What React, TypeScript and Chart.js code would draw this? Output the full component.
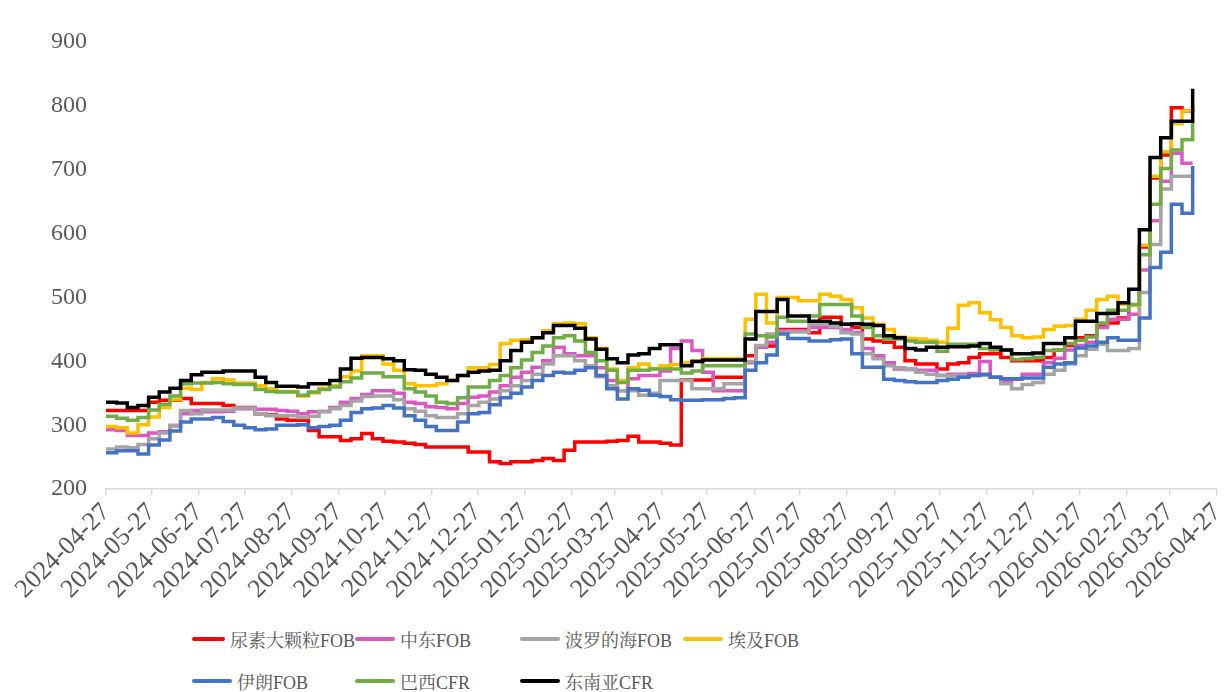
import React, { useEffect, useRef } from "react";
import { Chart, registerables } from "chart.js";

Chart.register(...registerables);

// ---- data ----
const START_DATE = "2024-04-27";
const AXIS_END_DAY = 730; // 2026-04-27
const WEEK_STEP_DAYS = 7;
const TICK_MONTHS_FROM = "2024-04";
const TICK_MONTHS_COUNT = 25;
const Y_MIN = 200;
const Y_MAX = 900;
const Y_STEP = 100;

const seriesNames = [
  "尿素大颗粒FOB",
  "中东FOB",
  "波罗的海FOB",
  "埃及FOB",
  "伊朗FOB",
  "巴西CFR",
  "东南亚CFR",
];

const seriesColors = ["#FF0000", "#DD57C2", "#A5A5A5", "#FFC000", "#4472C4", "#70AD47", "#000000"];

const urea = [
  323, 323, 323, 323, 336, 339, 339, 342, 334, 334,
  334, 331, 328, 328, 318, 316, 310, 308, 308, 292,
  282, 282, 276, 279, 287, 279, 275, 274, 272, 270,
  266, 266, 266, 266, 258, 258, 243, 240, 243, 243,
  245, 248, 245, 261, 274, 274, 274, 275, 276, 283,
  274, 274, 272, 269, 371, 371, 371, 375, 375, 375,
  409, 422, 424, 450, 450, 450, 445, 469, 469, 458,
  453, 435, 432, 430, 422, 401, 396, 396, 388, 396,
  398, 406, 412, 412, 406, 401, 401, 401, 406, 418,
  425, 437, 440, 455, 460, 468, 488, 579, 687, 723,
  797, 792, 795,
];

const middleEast = [
  293, 292, 284, 284, 288, 290, 299, 318, 323, 321,
  321, 322, 326, 326, 325, 325, 323, 322, 318, 321,
  321, 328, 336, 342, 348, 354, 354, 350, 336, 334,
  329, 328, 326, 334, 344, 346, 352, 362, 375, 383,
  391, 401, 422, 412, 409, 409, 390, 370, 354, 373,
  378, 378, 385, 420, 432, 417, 383, 354, 354, 354,
  398, 422, 430, 448, 448, 448, 453, 453, 453, 450,
  445, 420, 409, 398, 388, 388, 386, 386, 378, 380,
  380, 381, 400, 375, 370, 372, 380, 380, 398, 405,
  418, 425, 430, 453, 466, 466, 474, 543, 620, 682,
  726, 710, 710,
];

const baltic = [
  263, 266, 265, 270, 279, 288, 300, 323, 318, 324,
  324, 324, 327, 327, 318, 315, 315, 315, 312, 314,
  322, 326, 331, 338, 345, 346, 346, 340, 326, 322,
  315, 312, 312, 318, 331, 336, 341, 354, 362, 370,
  380, 396, 409, 409, 401, 393, 376, 362, 354, 354,
  347, 350, 370, 370, 370, 357, 357, 357, 365, 365,
  400, 425, 443, 445, 446, 446, 458, 458, 455, 445,
  443, 412, 404, 393, 390, 387, 383, 380, 378, 378,
  378, 378, 378, 375, 365, 357, 364, 367, 380, 386,
  396, 409, 419, 427, 417, 417, 420, 508, 583, 670,
  690, 690, 690,
];

const egypt = [
  298, 296, 288, 301, 313, 328, 340, 358, 356, 367,
  373, 371, 366, 366, 362, 357, 353, 353, 346, 351,
  358, 362, 376, 385, 409, 409, 396, 386, 365, 362,
  362, 365, 370, 378, 390, 390, 395, 428, 433, 434,
  437, 448, 459, 460, 459, 437, 420, 388, 370, 390,
  396, 389, 393, 395, 398, 401, 404, 404, 404, 404,
  466, 505, 460, 500, 500, 495, 495, 505, 502, 497,
  484, 468, 458, 450, 438, 436, 435, 433, 430, 452,
  488, 492, 476, 465, 453, 440, 437, 438, 450, 455,
  456, 466, 480, 497, 502, 490, 488, 582, 690, 728,
  772, 792, 805,
];

const iran = [
  257, 260, 260, 255, 269, 277, 291, 305, 310, 310,
  312, 306, 300, 296, 293, 294, 300, 300, 301, 296,
  298, 300, 308, 320, 326, 327, 331, 327, 315, 308,
  298, 292, 292, 305, 318, 320, 332, 343, 350, 360,
  370, 378, 383, 382, 386, 390, 378, 357, 341, 357,
  355, 347, 345, 340, 339, 339, 340, 340, 342, 343,
  386, 398, 410, 443, 436, 436, 432, 432, 434, 435,
  412, 391, 391, 372, 370, 368, 367, 367, 370, 372,
  375, 378, 380, 375, 373, 373, 374, 374, 391, 396,
  398, 421, 424, 430, 437, 433, 433, 468, 547, 571,
  646, 632, 706,
];

const brazil = [
  314, 311, 308, 312, 324, 333, 346, 365, 366, 366,
  367, 365, 364, 364, 356, 353, 352, 352, 347, 352,
  356, 360, 368, 374, 382, 382, 376, 376, 357, 352,
  346, 336, 334, 343, 360, 360, 370, 378, 390, 402,
  414, 424, 437, 440, 432, 414, 401, 386, 367, 386,
  386, 388, 388, 388, 382, 385, 393, 393, 393, 393,
  443, 440, 438, 469, 463, 463, 471, 489, 489, 489,
  471, 453, 440, 435, 435, 432, 430, 430, 416, 427,
  427, 427, 420, 418, 418, 403, 404, 406, 417, 418,
  428, 433, 438, 460, 480, 480, 489, 567, 646, 702,
  731, 747, 776,
];

const seAsia = [
  336, 335, 328, 331, 344, 352, 358, 370, 379, 383,
  383, 385, 385, 385, 375, 367, 361, 361, 360, 365,
  365, 370, 388, 405, 406, 406, 404, 401, 387, 386,
  380, 375, 370, 378, 383, 385, 386, 401, 417, 430,
  437, 445, 456, 456, 452, 435, 419, 404, 398, 410,
  412, 420, 426, 426, 393, 400, 402, 402, 402, 402,
  435, 478, 478, 497, 471, 471, 463, 463, 460, 458,
  459, 458, 456, 440, 437, 420, 418, 422, 422, 423,
  423, 424, 428, 422, 418, 412, 412, 413, 428, 428,
  437, 463, 463, 475, 475, 492, 513, 606, 719, 750,
  776, 776, 827,
];

const seriesValues = [urea, middleEast, baltic, egypt, iran, brazil, seAsia];

// ---- helpers ----
const DAY_MS = 86400000;
const startMs = Date.parse(START_DATE + "T00:00:00Z");
const pad2 = (n: number) => String(n).padStart(2, "0");
const dayToLabel = (d: number) => {
  const dt = new Date(startMs + d * DAY_MS);
  return `${dt.getUTCFullYear()}-${pad2(dt.getUTCMonth() + 1)}-${pad2(dt.getUTCDate())}`;
};
const tickDays: number[] = (() => {
  const [y0, m0] = TICK_MONTHS_FROM.split("-").map(Number);
  const out: number[] = [];
  for (let k = 0; k < TICK_MONTHS_COUNT; k++) {
    const ms = Date.UTC(y0, m0 - 1 + k, 27);
    out.push(Math.round((ms - startMs) / DAY_MS));
  }
  return out;
})();

const FONT_FAMILY = '"Liberation Serif", "Noto Serif CJK SC", "Noto Sans CJK SC", serif';
const TEXT_COLOR = "#595959";

export default function App() {
  const canvasRef = useRef<HTMLCanvasElement | null>(null);

  useEffect(() => {
    const canvas = canvasRef.current;
    if (!canvas) return;
    const datasets = seriesNames.map((name, si) => ({
      label: name,
      data: seriesValues[si].map((v, i) => ({ x: i * WEEK_STEP_DAYS, y: v })),
      borderColor: seriesColors[si],
      backgroundColor: seriesColors[si],
      borderWidth: 3.5,
      pointRadius: 0,
      pointHoverRadius: 0,
      stepped: true as const,
      fill: false,
      order: seriesNames.length - si,
    }));

    const chart = new Chart(canvas, {
      type: "line",
      data: { datasets },
      options: {
        animation: false,
        responsive: true,
        maintainAspectRatio: false,
        layout: { padding: { left: 32, right: 8, top: 42, bottom: 8 } },
        plugins: {
          legend: { display: false },
          tooltip: { enabled: false },
        },
        scales: {
          x: {
            type: "linear",
            min: 0,
            max: AXIS_END_DAY,
            afterBuildTicks: (scale: any) => {
              scale.ticks = tickDays.map((v) => ({ value: v }));
            },
            afterFit: (scale: any) => {
              scale.paddingLeft = 0;
              scale.paddingRight = 0;
            },
            ticks: {
              autoSkip: false,
              maxRotation: 45,
              minRotation: 45,
              color: TEXT_COLOR,
              font: { family: FONT_FAMILY, size: 26 },
              padding: 2,
              callback: (v: any) => dayToLabel(Number(v)),
            },
            grid: {
              display: true,
              drawOnChartArea: false,
              drawTicks: true,
              tickLength: 6,
              color: "#D9D9D9",
              lineWidth: 1.5,
            },
            border: { display: true, color: "#D9D9D9", width: 1.5 },
          },
          y: {
            type: "linear",
            min: Y_MIN,
            max: Y_MAX,
            ticks: {
              stepSize: Y_STEP,
              color: TEXT_COLOR,
              font: { family: FONT_FAMILY, size: 24 },
              padding: 19,
            },
            grid: { display: false, drawTicks: false },
            border: { display: false },
          },
        },
      },
    });
    return () => chart.destroy();
  }, []);

  const legendItem = (si: number) => (
    <div key={si} style={{ display: "flex", alignItems: "center", height: 42 }}>
      <span
        style={{
          display: "inline-block",
          width: 40,
          height: 4,
          borderRadius: 2,
          background: seriesColors[si],
          marginRight: 5,
        }}
      />
      <span style={{ fontFamily: FONT_FAMILY, fontSize: 18, color: TEXT_COLOR, whiteSpace: "nowrap" }}>
        {seriesNames[si]}
      </span>
    </div>
  );

  return (
    <div style={{ position: "absolute", left: 0, top: 0, width: 1225, height: 692, background: "#fff", overflow: "hidden" }}>
      <div style={{ position: "absolute", left: 0, top: 0, width: 1225, height: 615 }}>
        <canvas ref={canvasRef} />
      </div>
      <div
        style={{
          position: "absolute",
          left: 192,
          top: 618,
          display: "grid",
          gridTemplateColumns: "163px 165px 163px 200px",
          gridAutoRows: "42px",
        }}
      >
        {seriesNames.map((_, si) => legendItem(si))}
      </div>
    </div>
  );
}
